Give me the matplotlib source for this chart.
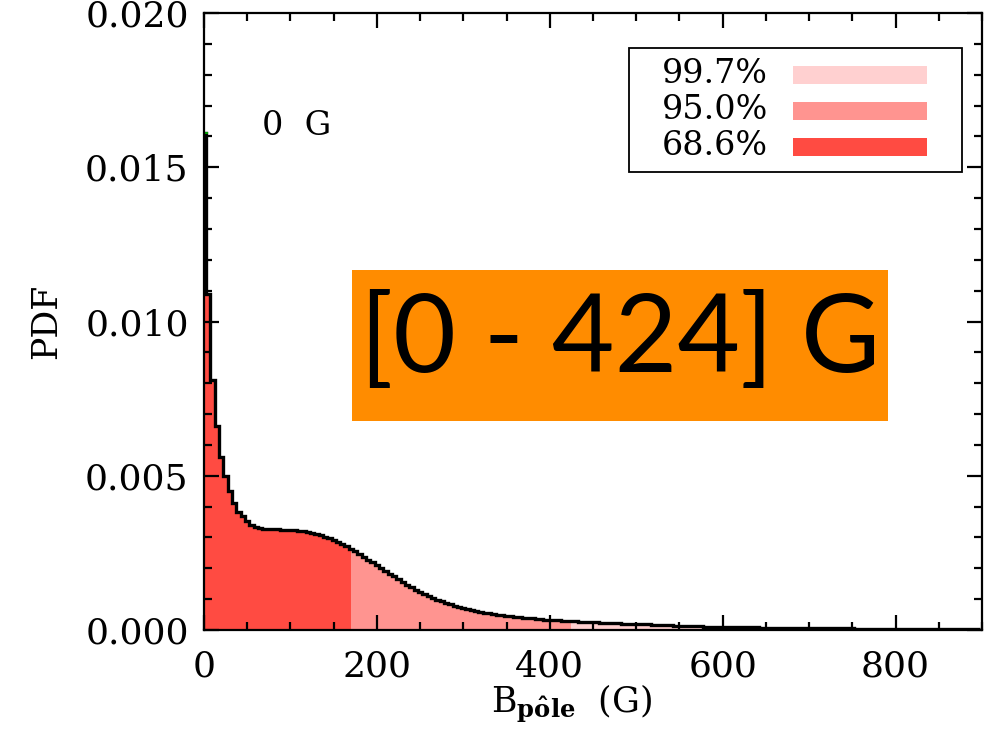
import numpy as np
import matplotlib
matplotlib.use("Agg")
import matplotlib.pyplot as plt
from matplotlib.patches import Rectangle
from matplotlib.ticker import MultipleLocator, FormatStrFormatter
from matplotlib import font_manager

# Posterior PDF of the polar field strength, 5 G bins centred on multiples of 5 G
bin_width = 5.0
pdf_values = [
    0.0161, 0.0109, 0.0081, 0.0066, 0.0056, 0.0050, 0.00449, 0.00411, 0.00384, 0.00368,   # 0-45
    0.00352, 0.00341, 0.00335, 0.00331, 0.00329, 0.00327, 0.00326, 0.00326, 0.00325, 0.00325,  # 50-95
    0.00324, 0.00323, 0.00322, 0.00320, 0.00318, 0.00315, 0.00312, 0.00308, 0.00303, 0.00298,  # 100-145
    0.00292, 0.00285, 0.00278, 0.00271, 0.00263, 0.00255, 0.00246, 0.00237, 0.00228, 0.00219,  # 150-195
    0.00210, 0.00201, 0.00192, 0.00183, 0.00174, 0.00165, 0.00156, 0.00147, 0.00139, 0.00131,  # 200-245
    0.00124, 0.00117, 0.00110, 0.00104, 0.00098, 0.00093, 0.00088, 0.00083, 0.00079, 0.00075,  # 250-295
    0.00071, 0.00068, 0.00065, 0.00062, 0.00059, 0.00056, 0.00054, 0.00052, 0.00050, 0.00048,  # 300-345
    0.00046, 0.00044, 0.00042, 0.00041, 0.00040, 0.00039, 0.00038, 0.00037, 0.00035, 0.00034,  # 350-395
    0.00033, 0.00032, 0.00031, 0.00030, 0.00030, 0.00029, 0.00028, 0.00027, 0.00027, 0.00026,  # 400-445
    0.00025, 0.00025, 0.00024, 0.00024, 0.00023, 0.00022, 0.00022, 0.00021, 0.00021, 0.00020,  # 450-495
    0.00020, 0.00019, 0.00018, 0.00018, 0.00017, 0.00017, 0.00016, 0.00015, 0.00015, 0.00014,  # 500-545
    0.00014, 0.00013, 0.00013, 0.00012, 0.00012, 0.00012, 0.00011, 0.00011, 0.00011, 0.00010,  # 550-595
    0.00010, 0.00010, 0.000095, 0.000092, 0.000090, 0.000088, 0.000086, 0.000084, 0.000082, 0.000080,  # 600-645
    0.000078, 0.000076, 0.000074, 0.000072, 0.000070, 0.000068, 0.000066, 0.000064, 0.000062, 0.000060,  # 650-695
    0.000059, 0.000058, 0.000057, 0.000056, 0.000055, 0.000054, 0.000053, 0.000052, 0.000051, 0.000050,  # 700-745
    0.000049, 0.000048, 0.000047, 0.000046, 0.000045, 0.000044, 0.000043, 0.000042, 0.000041, 0.000040,  # 750-795
    0.000040, 0.000039, 0.000039, 0.000038, 0.000038, 0.000037, 0.000037, 0.000036, 0.000036, 0.000035,  # 800-845
    0.000035, 0.000034, 0.000034, 0.000033, 0.000033, 0.000032, 0.000032, 0.000031, 0.000031, 0.000030,  # 850-895
]

# Credible interval upper bounds (lower bound 0 G)
interval_labels = ["99.7%", "95.0%", "68.6%"]
interval_upper = [640.0, 424.0, 170.0]
interval_colors = ["#FFD0D0", "#FF9490", "#FF4B42"]

mode_value = 0          # G
summary_low, summary_high = 0, 424   # G

x_max = 900.0
y_max = 0.0200

values = np.array(pdf_values)
centers = np.arange(len(values)) * bin_width
edges = np.concatenate([[0.0], centers[1:] - bin_width / 2, [min(centers[-1] + bin_width / 2, x_max)]])


def region_stairs(lo, hi):
    """Stair values/edges restricted to [lo, hi], splitting bins at the bounds."""
    inner = edges[(edges > lo) & (edges < hi)]
    e = np.concatenate([[lo], inner, [hi]])
    idx = np.searchsorted(edges, e[:-1], side="right") - 1
    idx = np.clip(idx, 0, len(values) - 1)
    return values[idx], e


plt.rcParams["font.family"] = ["DejaVu Serif"]
plt.rcParams["mathtext.fontset"] = "dejavuserif"

fig = plt.figure(figsize=(9.96, 7.41), dpi=100)
W, H = 996.0, 741.0
ax = fig.add_axes([204 / W, 1 - 630 / H, (982 - 204) / W, (630 - 13) / H])

# Shaded credible regions, widest first
for upper, col in zip(interval_upper, interval_colors):
    v, e = region_stairs(0.0, upper)
    ax.stairs(v, e, fill=True, color=col, linewidth=0, zorder=1)

# Histogram outline
ax.stairs(values, edges, color="black", linewidth=2.4, baseline=None, zorder=3)
ax.plot([0, 4], [values[0], values[0]], color="#00A000", linewidth=1.5, zorder=4)

ax.set_xlim(0, x_max)
ax.set_ylim(0, y_max)
ax.xaxis.set_major_locator(MultipleLocator(200))
ax.xaxis.set_minor_locator(MultipleLocator(50))
ax.yaxis.set_major_locator(MultipleLocator(0.005))
ax.yaxis.set_minor_locator(MultipleLocator(0.001))
ax.yaxis.set_major_formatter(FormatStrFormatter("%.3f"))

ax.tick_params(which="both", direction="in", top=True, right=True, width=1.6, colors="black")
ax.tick_params(which="major", length=11)
ax.tick_params(which="minor", length=5.5)
ax.tick_params(axis="x", which="major", pad=14, labelsize=26)
ax.tick_params(axis="y", which="major", pad=11, labelsize=26)
for s in ax.spines.values():
    s.set_linewidth(1.6)
    s.set_zorder(5)

ax.set_xlabel(r"B$_{\mathbf{p\^ole}}$  (G)", fontsize=25, labelpad=0)
ax.xaxis.set_label_coords((572 - 204) / (982 - 204), -0.085)
ax.set_ylabel("PDF", fontsize=25, labelpad=16)

# Mode label
ax.text(262 / W, 1 - 126 / H, f"{mode_value}  G", transform=fig.transFigure,
        fontsize=24, va="center", ha="left")

# Interval summary box
fig.add_artist(Rectangle((352 / W, 1 - 421 / H), (888 - 352) / W, (421 - 270) / H,
                         transform=fig.transFigure, facecolor="#FF8C00", edgecolor="none", zorder=6))
box_font = [f for f in ["Lato", "Open Sans", "Noto Sans", "DejaVu Sans"]
            if any(fe.name == f for fe in font_manager.fontManager.ttflist)]
fig.text(620 / W, 1 - 342 / H, f"[{summary_low} - {summary_high}] G", family=box_font,
         fontsize=78, ha="center", va="center", color="black", zorder=7)

# Legend of credible levels
fig.add_artist(Rectangle((629 / W, 1 - 172 / H), (962 - 629) / W, (172 - 48) / H,
                         transform=fig.transFigure, facecolor="white", edgecolor="black",
                         linewidth=1.3, zorder=6))
row_y = [74, 110, 146]
for lab, col, yy in zip(interval_labels, interval_colors, row_y):
    fig.text(768 / W, 1 - yy / H, lab, fontsize=24, ha="right", va="center", zorder=7)
    fig.add_artist(Rectangle((793 / W, 1 - (yy + 10) / H), (927 - 793) / W, 18 / H,
                             transform=fig.transFigure, facecolor=col, edgecolor="none", zorder=7))

fig.savefig("out.png", dpi=100)
